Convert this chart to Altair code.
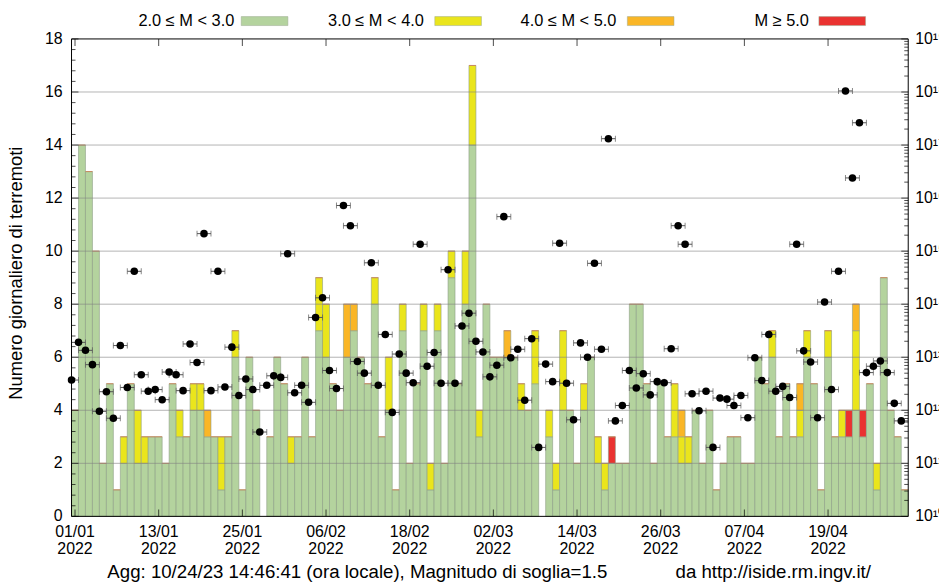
import altair as alt
import pandas as pd

FONT = "Liberation Sans"
W, H = 843, 481

# ---------------- data ----------------
start_day = "2022-01-01"
n_days = 120

green = [4, 14, 13, 10, 2, 5, 1, 2, 5, 2,
         2, 3, 3, 2, 5, 3, 3, 4, 4, 3,
         3, 1, 3, 6, 1, 6, 4, 0, 3, 6,
         5, 2, 3, 6, 3, 7, 6, 5, 4, 6,
         7, 6, 5, 8, 3, 4, 1, 7, 2, 5,
         7, 1, 7, 2, 9, 5, 8, 14, 3, 8,
         6, 6, 6, 6, 4, 4, 5, 0, 3, 1,
         4, 4, 2, 4, 6, 2, 1, 2, 2, 2,
         8, 8, 5, 2, 5, 3, 3, 2, 2, 4,
         2, 4, 1, 2, 3, 3, 2, 2, 6, 5,
         6, 3, 5, 3, 3, 6, 5, 1, 6, 3,
         3, 3, 4, 3, 5, 1, 9, 4, 3, 1]

yellow = [0, 0, 0, 0, 0, 0, 0, 1, 0, 2,
          1, 0, 0, 0, 0, 1, 0, 1, 1, 0,
          0, 2, 0, 1, 0, 0, 0, 0, 0, 0,
          0, 1, 0, 0, 0, 2, 2, 0, 0, 0,
          0, 0, 0, 1, 0, 2, 0, 1, 0, 0,
          1, 1, 1, 0, 1, 0, 2, 3, 1, 0,
          0, 0, 0, 0, 1, 0, 2, 0, 1, 1,
          3, 0, 0, 1, 0, 1, 1, 0, 0, 0,
          0, 0, 0, 0, 0, 0, 2, 1, 1, 0,
          0, 0, 0, 0, 0, 0, 0, 0, 0, 0,
          1, 0, 0, 0, 1, 1, 0, 0, 1, 0,
          1, 0, 3, 0, 0, 1, 0, 0, 0, 0]

orange = [0, 0, 0, 0, 0, 0, 0, 0, 0, 0,
          0, 0, 0, 0, 0, 0, 0, 0, 0, 1,
          0, 0, 0, 0, 0, 0, 0, 0, 0, 0,
          0, 0, 0, 0, 0, 0, 0, 0, 0, 2,
          1, 0, 0, 0, 0, 0, 0, 0, 0, 0,
          0, 0, 0, 0, 0, 0, 0, 0, 0, 0,
          0, 0, 1, 0, 0, 0, 0, 0, 0, 0,
          0, 0, 0, 0, 0, 0, 0, 0, 0, 0,
          0, 0, 0, 0, 0, 0, 0, 1, 0, 0,
          0, 0, 0, 0, 0, 0, 0, 0, 0, 0,
          0, 0, 0, 0, 1, 0, 0, 0, 0, 0,
          0, 0, 1, 0, 0, 0, 0, 0, 0, 0]

red = [0, 0, 0, 0, 0, 0, 0, 0, 0, 0,
       0, 0, 0, 0, 0, 0, 0, 0, 0, 0,
       0, 0, 0, 0, 0, 0, 0, 0, 0, 0,
       0, 0, 0, 0, 0, 0, 0, 0, 0, 0,
       0, 0, 0, 0, 0, 0, 0, 0, 0, 0,
       0, 0, 0, 0, 0, 0, 0, 0, 0, 0,
       0, 0, 0, 0, 0, 0, 0, 0, 0, 0,
       0, 0, 0, 0, 0, 0, 0, 1, 0, 0,
       0, 0, 0, 0, 0, 0, 0, 0, 0, 0,
       0, 0, 0, 0, 0, 0, 0, 0, 0, 0,
       0, 0, 0, 0, 0, 0, 0, 0, 0, 0,
       0, 1, 0, 1, 0, 0, 0, 0, 0, 0]

# log10 of the daily value plotted on the right (log) axis
log_energy = [12.57, 13.28, 13.13, 12.86, 11.98, 12.35, 11.85, 13.22, 12.43, 14.62,
              12.67, 12.36, 12.39, 12.20, 12.72, 12.67, 12.37, 13.25, 12.90, 15.33,
              12.37, 14.62, 12.44, 13.19, 12.28, 12.59, 12.39, 11.59, 12.47, 12.65,
              12.62, 14.95, 12.33, 12.47, 12.15, 13.75, 14.12, 12.75, 12.41, 15.86,
              15.48, 12.92, 12.70, 14.78, 12.47, 13.43, 11.96, 13.06, 12.70, 12.52,
              15.13, 12.83, 13.09, 12.51, 14.65, 12.51, 13.59, 13.83, 13.30, 13.10,
              12.63, 12.85, 15.65, 12.99, 13.15, 12.19, 13.35, 11.30, 12.87, 12.54,
              15.15, 12.51, 11.82, 13.27, 13.00, 14.77, 13.15, 17.12, 11.80, 12.09,
              12.75, 12.42, 12.69, 12.29, 12.54, 12.52, 13.16, 15.48, 15.13, 12.31,
              11.99, 12.36, 11.30, 12.23, 12.21, 12.09, 12.28, 11.86, 12.99, 12.56,
              13.43, 12.36, 12.45, 12.24, 15.13, 13.12, 12.91, 11.86, 14.04, 12.39,
              14.62, 18.02, 16.38, 17.42, 12.71, 12.83, 12.93, 12.71, 12.13, 11.80]

categories = ["2.0 \u2264 M < 3.0", "3.0 \u2264 M < 4.0", "4.0 \u2264 M < 5.0", "M \u2265 5.0"]
colors = ["#b4d39e", "#eae51c", "#fab626", "#ea3230"]

tick_dates = ["2022-01-01", "2022-01-13", "2022-01-25", "2022-02-06", "2022-02-18",
              "2022-03-02", "2022-03-14", "2022-03-26", "2022-04-07", "2022-04-19"]
left_major = [0, 2, 4, 6, 8, 10, 12, 14, 16, 18]
grid_values = [2, 4, 6, 8, 10, 12, 14, 16]
right_exponents = list(range(10, 20))

y_title = "Numero giornaliero di terremoti"
footer_left = "Agg: 10/24/23 14:46:41 (ora locale), Magnitudo di soglia=1.5"
footer_right = "da http://iside.rm.ingv.it/"

assert len(green) == len(yellow) == len(orange) == len(red) == len(log_energy) == n_days

# ---------------- tables ----------------
days = pd.date_range(start_day, periods=n_days, freq="D")
half = pd.Timedelta(hours=12)


def iso(ts):
    return ts.strftime("%Y-%m-%dT%H:%M:%SZ")


def dt(ts):
    return alt.DateTime(year=ts.year, month=ts.month, date=ts.day, hours=ts.hour, utc=True)


SUP = "\u2070\u00b9\u00b2\u00b3\u2074\u2075\u2076\u2077\u2078\u2079"


def sup(n):
    return "".join(SUP[int(c)] for c in str(n))


seg_rows, top_rows, dot_rows = [], [], []
for i, d in enumerate(days):
    base = 0
    for cat, arr in zip(categories, [green, yellow, orange, red]):
        v = arr[i]
        if v > 0:
            seg_rows.append({"start": iso(d - half), "end": iso(d + half),
                             "y0": base, "y1": base + v, "cat": cat})
        base += v
    if base > 0:
        top_rows.append({"start": iso(d - half), "end": iso(d + half), "total": base})
    dot_rows.append({"mid": iso(d - half), "lo": iso(d - 3 * half), "hi": iso(d + half),
                     "energy": 10.0 ** log_energy[i]})

seg_df = pd.DataFrame(seg_rows)
top_df = pd.DataFrame(top_rows)
dot_df = pd.DataFrame(dot_rows)

minor_left = [round(k * 0.4, 1) for k in range(46) if k % 5 != 0]
right_major = [10.0 ** e for e in right_exponents]
right_minor = [m * 10.0 ** e for e in right_exponents[:-1] for m in range(2, 10)]

left_lab_df = pd.DataFrame({"v": left_major, "lab": [str(v) for v in left_major]})
x_lab_df = pd.DataFrame({
    "t": [iso(pd.Timestamp(t)) for t in tick_dates],
    "lab": [pd.Timestamp(t).strftime("%d/%m") + "\n" + pd.Timestamp(t).strftime("%Y") for t in tick_dates],
})
right_lab_df = pd.DataFrame({"v": right_major, "lab": ["10" + sup(e) for e in right_exponents]})

# ---------------- scales ----------------
xscale = alt.Scale(type="utc", domain=[dt(days[0] - half), dt(days[-1] + half)])
yscale = alt.Scale(domain=[0, 18], nice=False, zero=False)
y2scale = alt.Scale(type="log", domain=[1e10, 1e19], nice=False)

# ---------------- left group (counts) ----------------
bars = alt.Chart(seg_df).mark_bar(stroke="#8d9d85", strokeWidth=0.6).encode(
    x=alt.X("start:T", scale=xscale, axis=None),
    x2="end:T",
    y=alt.Y("y1:Q", scale=yscale, axis=None),
    y2="y0:Q",
    color=alt.Color("cat:N", scale=alt.Scale(domain=categories, range=colors), legend=None),
)

tops = alt.Chart(top_df).mark_rule(color="#c98a60", strokeWidth=1).encode(
    x=alt.X("start:T", scale=xscale, axis=None),
    x2="end:T",
    y=alt.Y("total:Q", scale=yscale, axis=None),
)

grid = alt.Chart(pd.DataFrame({"g": grid_values})).mark_rule(
    color="#808080", opacity=0.6, strokeWidth=1).encode(
    y=alt.Y("g:Q", scale=yscale, axis=None), x=alt.value(0), x2=alt.value(W))

lt_major = alt.Chart(pd.DataFrame({"v": left_major})).mark_tick(
    orient="horizontal", color="black", thickness=1, size=7).encode(
    y=alt.Y("v:Q", scale=yscale, axis=None), x=alt.value(3.5))
lt_minor = alt.Chart(pd.DataFrame({"v": minor_left})).mark_tick(
    orient="horizontal", color="black", thickness=1, size=4).encode(
    y=alt.Y("v:Q", scale=yscale, axis=None), x=alt.value(2))

left_labels = alt.Chart(left_lab_df).mark_text(
    align="right", baseline="middle", font=FONT, fontSize=16, color="black").encode(
    y=alt.Y("v:Q", scale=yscale, axis=None), x=alt.value(-9), text="lab:N")

title_txt = alt.Chart(pd.DataFrame({"t": [y_title]})).mark_text(
    angle=270, align="center", baseline="alphabetic", font=FONT, fontSize=18.5, color="black").encode(
    text="t:N", x=alt.value(-50), y=alt.value(236))

tick_df = pd.DataFrame({"t": [iso(pd.Timestamp(t)) for t in tick_dates]})
xt_bottom = alt.Chart(tick_df).mark_tick(
    orient="vertical", color="black", thickness=1, size=7).encode(
    x=alt.X("t:T", scale=xscale, axis=None), y=alt.value(H - 3.5))
xt_top = alt.Chart(tick_df).mark_tick(
    orient="vertical", color="black", thickness=1, size=7).encode(
    x=alt.X("t:T", scale=xscale, axis=None), y=alt.value(3.5))

x_labels = alt.Chart(x_lab_df).mark_text(
    align="center", baseline="top", lineBreak="\n", lineHeight=17,
    font=FONT, fontSize=16, color="black").encode(
    x=alt.X("t:T", scale=xscale, axis=None), y=alt.value(H + 8), text="lab:N")

legend_layers = []
legend_text_end = [164, 355, 549, 743]
legend_swatch_x = [171, 366, 560, 753]
for cat, col, te, sx in zip(categories, colors, legend_text_end, legend_swatch_x):
    one = pd.DataFrame({"label": [cat]})
    legend_layers.append(alt.Chart(one).mark_text(
        align="right", baseline="middle", font=FONT, fontSize=16.5, color="black").encode(
        text="label:N", x=alt.value(te), y=alt.value(-18)))
    legend_layers.append(alt.Chart(one).mark_rect(
        color=col, stroke="#9aa890", strokeWidth=0.5).encode(
        x=alt.value(sx), x2=alt.value(sx + 47), y=alt.value(-22.5), y2=alt.value(-13.5)))

foot1 = alt.Chart(pd.DataFrame({"t": [footer_left]})).mark_text(
    align="center", baseline="alphabetic", font=FONT, fontSize=18.8, color="black").encode(
    text="t:N", x=alt.value(288), y=alt.value(543))
foot2 = alt.Chart(pd.DataFrame({"t": [footer_right]})).mark_text(
    align="center", baseline="alphabetic", font=FONT, fontSize=18.8, color="black").encode(
    text="t:N", x=alt.value(707), y=alt.value(543))

left = alt.layer(bars, tops, grid, lt_major, lt_minor, xt_bottom, xt_top,
                 left_labels, title_txt, x_labels, *legend_layers, foot1, foot2)

# ---------------- right group (log axis dots) ----------------
err = alt.Chart(dot_df).mark_rule(color="#555555", strokeWidth=1, clip=True).encode(
    x=alt.X("lo:T", scale=xscale, axis=None), x2="hi:T",
    y=alt.Y("energy:Q", scale=y2scale, axis=None))
cap_lo = alt.Chart(dot_df).mark_tick(
    orient="vertical", color="#555555", thickness=1, size=6, clip=True).encode(
    x=alt.X("lo:T", scale=xscale, axis=None), y=alt.Y("energy:Q", scale=y2scale, axis=None))
cap_hi = alt.Chart(dot_df).mark_tick(
    orient="vertical", color="#555555", thickness=1, size=6, clip=True).encode(
    x=alt.X("hi:T", scale=xscale, axis=None), y=alt.Y("energy:Q", scale=y2scale, axis=None))
dots = alt.Chart(dot_df).mark_circle(size=58, color="black", opacity=1).encode(
    x=alt.X("mid:T", scale=xscale, axis=None),
    y=alt.Y("energy:Q", scale=y2scale, axis=None))

rt_major = alt.Chart(pd.DataFrame({"v": right_major})).mark_tick(
    orient="horizontal", color="black", thickness=1, size=7).encode(
    y=alt.Y("v:Q", scale=y2scale, axis=None), x=alt.value(W - 3.5))
rt_minor = alt.Chart(pd.DataFrame({"v": right_minor})).mark_tick(
    orient="horizontal", color="black", thickness=1, size=4).encode(
    y=alt.Y("v:Q", scale=y2scale, axis=None), x=alt.value(W - 2))

right_labels = alt.Chart(right_lab_df).mark_text(
    align="left", baseline="middle", font=FONT, fontSize=16, color="black").encode(
    y=alt.Y("v:Q", scale=y2scale, axis=None), x=alt.value(W + 7), text="lab:N")

one_row = pd.DataFrame({"k": [0]})
frame = [
    alt.Chart(one_row).mark_rule(color="black", strokeWidth=1).encode(
        x=alt.value(0), x2=alt.value(W), y=alt.value(H)),
    alt.Chart(one_row).mark_rule(color="black", strokeWidth=1).encode(
        x=alt.value(0), y=alt.value(0), y2=alt.value(H)),
    alt.Chart(one_row).mark_rule(color="black", strokeWidth=1).encode(
        x=alt.value(W), y=alt.value(0), y2=alt.value(H)),
    alt.Chart(one_row).mark_rule(color="black", strokeWidth=1).encode(
        x=alt.value(0), x2=alt.value(W), y=alt.value(0)),
]

right = alt.layer(err, cap_lo, cap_hi, dots, rt_major, rt_minor, right_labels, *frame)

chart = alt.layer(left, right).resolve_scale(y="independent").properties(
    width=W, height=H,
    padding={"left": 64, "top": 29, "right": 31, "bottom": 71},
    autosize=alt.AutoSizeParams(type="none"),
).configure(font=FONT).configure_view(stroke=None)

chart.save("out.html", embed_options={"renderer": "svg", "actions": False})
